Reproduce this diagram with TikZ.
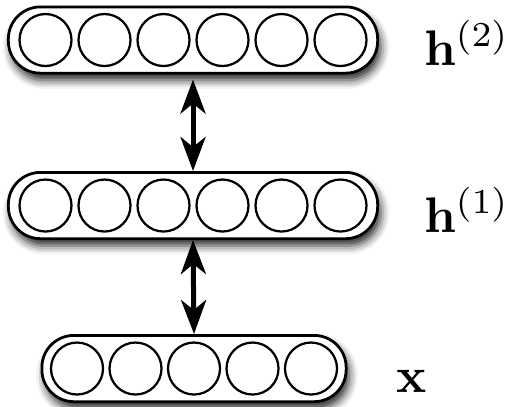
\documentclass[tikz,border=0pt]{standalone}
\usetikzlibrary{arrows.meta,fit,backgrounds,shadows.blur}
\begin{document}
\begin{tikzpicture}[
  x=0.2pt, y=-0.2pt,
  rbmunit/.style = {circle, draw, line width=0.45pt, fill=white, minimum size=10.4pt, inner sep=0pt},
  rbmlayer/.style = {draw, line width=0.55pt, fill=white, rounded corners=6.4pt, inner ysep=1.2pt,
    blur shadow={shadow xshift=0.6pt, shadow yshift=-1.4pt, shadow blur radius=1.7pt, shadow opacity=85}},
  rbmarrow/.style = {<->, >={Stealth[length=6.8pt, width=5pt, inset=2pt]}, line width=1pt},
  rbmlbl/.style = {anchor=base west, inner sep=0pt}
]
  \useasboundingbox (0,0) rectangle (516,406);
  % units
  \foreach \i in {1,...,6} {
    \node[rbmunit] (h2u\i) at ({45.5+59*(\i-1)}, 40) {};
    \node[rbmunit] (h1u\i) at ({45.5+59*(\i-1)}, 205.5) {};
  }
  \foreach \i in {1,...,5}
    \node[rbmunit] (xu\i) at ({77+58.5*(\i-1)}, 368.5) {};
  % layers
  \begin{scope}[on background layer]
    \node[rbmlayer, inner xsep=2pt, fit=(h2u1)(h2u6)] (h2) {};
    \node[rbmlayer, inner xsep=2pt, fit=(h1u1)(h1u6)] (h1) {};
    \node[rbmlayer, inner xsep=1.6pt, fit=(xu1)(xu5)] (x) {};
  \end{scope}
  % connections
  \draw[rbmarrow, shorten <=1pt] (h2.south) -- (h1.north);
  \draw[rbmarrow] (h1.south) -- (x.north);
  % labels
  \node[rbmlbl] (lh2) at (423,65) {$\mathbf{h}^{(2)}$};
  \node[rbmlbl] (lh1) at (423,232) {$\mathbf{h}^{(1)}$};
  \node[rbmlbl] (lx) at (395,392) {$\mathbf{x}$};
\end{tikzpicture}
\end{document}
